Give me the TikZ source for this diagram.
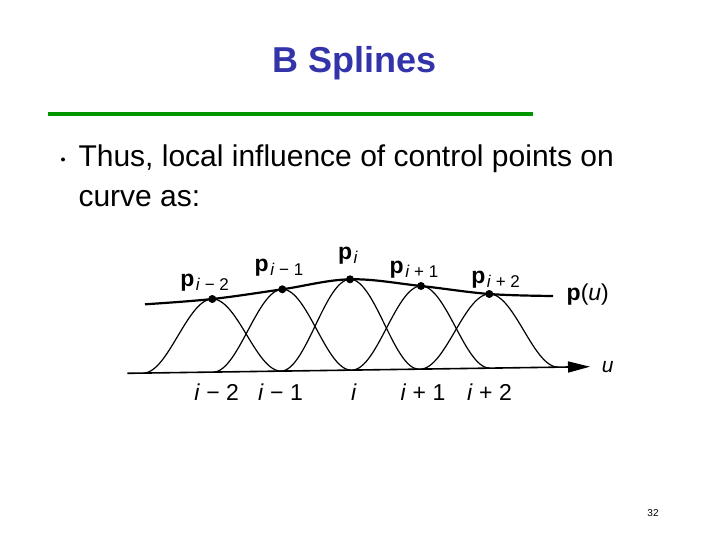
\documentclass[tikz,border=0pt]{standalone}
\usepackage{fontspec}
\setmainfont{Liberation Sans}
\usetikzlibrary{arrows.meta,positioning,backgrounds}
\definecolor{titleblue}{RGB}{51,51,170}
\definecolor{rulegreen}{RGB}{0,150,0}
\newcommand{\plab}[1]{\textbf{p}\kern1.5pt\raisebox{-4pt}{\fontsize{17}{17}\selectfont#1}}

\begin{document}
\begin{tikzpicture}[x=1pt, y={(0pt,-1pt)},
 dot/.style={circle, fill=black, inner sep=0pt, minimum size=8pt},
 bump/.style={line width=1.2pt},
 pcurve/.style={line width=2.2pt},
 axis/.style={line width=1.6pt, -{Triangle[length=22pt, width=11pt]}},
 lab/.style={anchor=base west, inner sep=0pt, font=\fontsize{23}{23}\selectfont},
 knot/.style={anchor=base, inner sep=0pt, font=\fontsize{23}{23}\selectfont}]
 \useasboundingbox (0,0) rectangle (720,540);

 % --- Title ---
 \node[anchor=base, inner sep=0pt, text=titleblue, font=\fontsize{36}{36}\selectfont\bfseries] (title) at (354.5,72.7) {B Splines};
 \coordinate (r0) at (48,114);
 \coordinate (r1) at (533,114);
 \draw[rulegreen, line width=4.5pt] (r0) -- (r1);

 % --- Bullet text ---
 \node[circle, fill=black, inner sep=0pt, minimum size=4pt] (bul) at (63,159.5) {};
 \node[anchor=base west, inner sep=0pt, font=\fontsize{30}{30}\selectfont] (line1) at (78.3,166.7) {Thus, local influence of control points on};
 \node[anchor=base west, inner sep=0pt, font=\fontsize{30}{30}\selectfont] (line2) at (78.3,206.7) {curve as:};

 % --- Control points on p(u) ---
 \node[dot] (P1) at (212.3,299) {};
 \node[dot] (P2) at (282.3,289.3) {};
 \node[dot] (P3) at (350,279.3) {};
 \node[dot] (P4) at (421,286) {};
 \node[dot] (P5) at (489.3,294) {};
 \coordinate (pl) at (145,304.3);
 \coordinate (pr) at (553,296);

 \node[lab] (L1) at (180.2,286.7) {\plab{\textit{i} − 2}};
 \node[lab] (L2) at (254.5,271.7) {\plab{\textit{i} − 1}};
 \node[lab] (L3) at (337.8,259) {\plab{\textit{i}}};
 \node[lab] (L4) at (389.5,273.3) {\plab{\textit{i} + 1}};
 \node[lab] (L5) at (471.2,283.3) {\plab{\textit{i} + 2}};
 \node[lab] (pu) at (566.5,300) {\textbf{p}(\textit{u})};

 % --- Parameter axis ---
 \coordinate (u0) at (127.3,373.3);
 \coordinate (u1) at (590,366.7);
 \draw[axis] (u0) -- (u1);
 \node[inner sep=0pt, anchor=west, font=\fontsize{21}{21}\selectfont\itshape, right=11.7pt of u1] (ulab) {u};

 \foreach \k/\t [count=\n] in {216.6/{\textit{i} − 2}, 280.5/{\textit{i} − 1}, 354/{\textit{i}}, 423/{\textit{i} + 1}, 489.5/{\textit{i} + 2}}
 \node[knot] (k\n) at (\k,400) {\t};

 \node[anchor=base, inner sep=0pt, font=\fontsize{10}{10}\selectfont] (pg) at (653,516) {32};

 \begin{scope}[on background layer]
 % basis functions
 \foreach \c/\h/\b in {212.3/73.1/372.1, 282.3/81.8/371.1, 350/90.8/370.1, 421/83.1/369.1, 489.3/74.1/368.1}
 \draw[bump] plot[domain=-1:1, samples=61, smooth] ({\c+69*\x}, {\b-0.984*\x-\h*(1+cos(180*\x))/2});
 % the curve p(u)
 \draw[pcurve] plot[smooth, tension=0.6] coordinates {(pl) (P1.center) (P2.center) (P3.center) (P4.center) (P5.center) (pr)};
 \end{scope}
\end{tikzpicture}
\end{document}
